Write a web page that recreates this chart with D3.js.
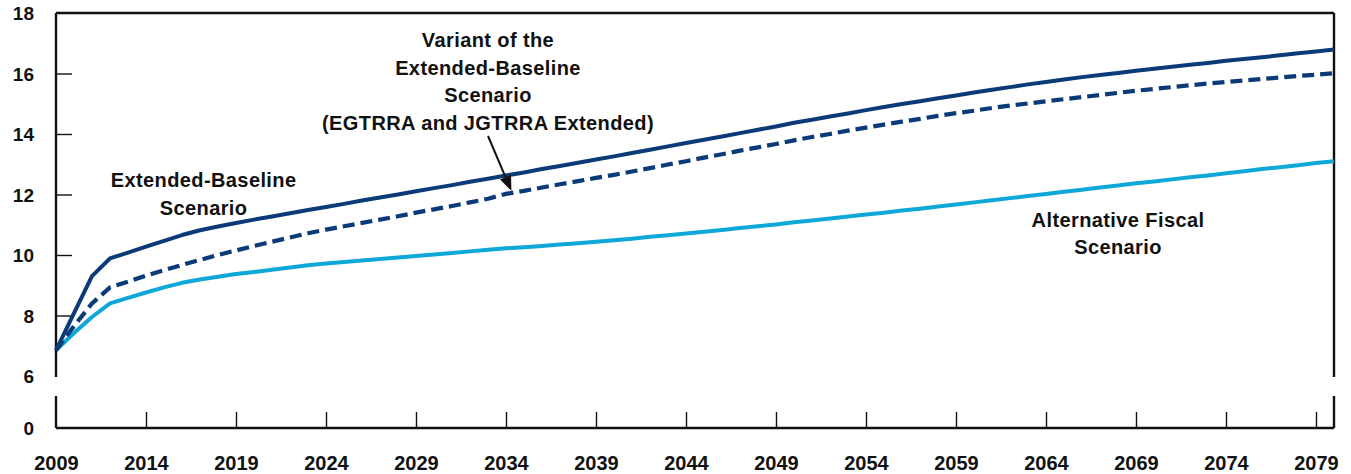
<!DOCTYPE html>
<html>
<head>
<meta charset="utf-8">
<script src="https://cdn.jsdelivr.net/npm/d3@7"></script>
<style>
  html, body { margin: 0; padding: 0; background: #fff; }
  svg { display: block; }
  text { font-family: "Liberation Sans", Arial, sans-serif; font-weight: bold; fill: #111; }
</style>
</head>
<body>
<svg id="chart" width="1351" height="474"></svg>
<script>
// ---- data ----
const years = d3.range(2009, 2081);
const extendedBaseline = [
  6.85, 8.08, 9.30, 9.89, 10.08, 10.28, 10.47, 10.66, 10.82, 10.94,
  11.06, 11.17, 11.27, 11.38, 11.49, 11.59, 11.69, 11.80, 11.90, 12.00,
  12.11, 12.21, 12.31, 12.42, 12.52, 12.63, 12.73, 12.84, 12.94, 13.05,
  13.16, 13.26, 13.37, 13.48, 13.59, 13.70, 13.81, 13.92, 14.03, 14.14,
  14.25, 14.37, 14.47, 14.58, 14.68, 14.79, 14.89, 14.99, 15.08, 15.18,
  15.27, 15.37, 15.46, 15.55, 15.64, 15.72, 15.80, 15.88, 15.95, 16.02,
  16.09, 16.16, 16.22, 16.29, 16.35, 16.42, 16.48, 16.54, 16.60, 16.67,
  16.73, 16.79
];
const variantExtended = [
  6.85, 7.65, 8.40, 8.93, 9.12, 9.32, 9.50, 9.67, 9.84, 10.00,
  10.15, 10.30, 10.44, 10.58, 10.72, 10.84, 10.95, 11.06, 11.17, 11.28,
  11.40, 11.51, 11.62, 11.74, 11.86, 12.02, 12.12, 12.23, 12.34, 12.44,
  12.55, 12.65, 12.76, 12.87, 12.99, 13.10, 13.22, 13.33, 13.45, 13.56,
  13.67, 13.79, 13.90, 14.00, 14.11, 14.21, 14.31, 14.41, 14.50, 14.60,
  14.69, 14.77, 14.86, 14.94, 15.01, 15.08, 15.15, 15.22, 15.29, 15.36,
  15.43, 15.49, 15.55, 15.61, 15.67, 15.72, 15.77, 15.82, 15.87, 15.92,
  15.96, 16.01
];
const alternativeFiscal = [
  6.85, 7.42, 7.95, 8.40, 8.58, 8.76, 8.93, 9.08, 9.19, 9.28,
  9.37, 9.44, 9.51, 9.59, 9.66, 9.72, 9.77, 9.82, 9.87, 9.92,
  9.97, 10.02, 10.07, 10.12, 10.17, 10.22, 10.26, 10.30, 10.35, 10.39,
  10.44, 10.49, 10.54, 10.60, 10.65, 10.71, 10.77, 10.83, 10.89, 10.95,
  11.01, 11.08, 11.14, 11.21, 11.27, 11.34, 11.40, 11.47, 11.53, 11.60,
  11.67, 11.74, 11.81, 11.88, 11.95, 12.02, 12.09, 12.16, 12.23, 12.30,
  12.37, 12.43, 12.50, 12.57, 12.63, 12.70, 12.77, 12.84, 12.90, 12.97,
  13.04, 13.10
];
const xTickYears = d3.range(2009, 2080, 5);
const yTickValues = [6, 8, 10, 12, 14, 16, 18];
const yBreakLabel = "0";

// ---- layout ----
const svg = d3.select("#chart");
const plotLeft = 56, plotRight = 1334, plotTop = 13, yBottomMain = 376, yZero = 428;
const breakTop = 377, breakBottom = 396;

const x = d3.scaleLinear().domain([2009, 2080]).range([plotLeft, plotRight]);
const y = d3.scaleLinear().domain([6, 18]).range([yBottomMain, plotTop]);
const yLow = d3.scaleLinear().domain([0, 1]).range([yZero, yZero - 30.25]);

const dark = "#0b3a78";
const light = "#0ea8d8";

// frame: top border, left/right with break, bottom axis
const frame = svg.append("g").attr("stroke", "#111").attr("stroke-width", 2.4).attr("fill", "none");
frame.append("line").attr("x1", plotLeft).attr("x2", plotRight).attr("y1", plotTop).attr("y2", plotTop);
frame.append("line").attr("x1", plotLeft).attr("x2", plotRight).attr("y1", yZero).attr("y2", yZero);
[plotLeft, plotRight].forEach(xx => {
  frame.append("line").attr("x1", xx).attr("x2", xx).attr("y1", plotTop).attr("y2", breakTop);
  frame.append("line").attr("x1", xx).attr("x2", xx).attr("y1", breakBottom).attr("y2", yZero);
});

// y axis ticks (inward) and labels
const yAxis = d3.axisLeft(y).tickValues(yTickValues).tickSize(-16).tickPadding(22).tickFormat(d3.format("d"));
const gy = svg.append("g").attr("transform", `translate(${plotLeft},0)`).call(yAxis);
gy.select(".domain").remove();
gy.selectAll(".tick line").attr("stroke", "#111").attr("stroke-width", 1.4)
  .filter(d => d === 6 || d === 18).remove();
gy.selectAll(".tick text").attr("font-size", 19).attr("fill", "#111")
  .attr("font-family", '"Liberation Sans", Arial, sans-serif').attr("font-weight", "bold")
  .attr("dy", "0.36em");
svg.append("text").attr("x", plotLeft - 22).attr("y", yLow(0)).attr("dy", "0.36em")
  .attr("text-anchor", "end").attr("font-size", 19).text(yBreakLabel);

// x axis ticks (inward) and labels
const xAxis = d3.axisBottom(x).tickValues(xTickYears).tickSize(-16).tickPadding(28).tickFormat(d3.format("d"));
const gx = svg.append("g").attr("transform", `translate(0,${yZero})`).call(xAxis);
gx.select(".domain").remove();
gx.selectAll(".tick line").attr("stroke", "#111").attr("stroke-width", 1.4)
  .filter(d => d === 2009).remove();
gx.selectAll(".tick text").attr("font-size", 20).attr("fill", "#111")
  .attr("font-family", '"Liberation Sans", Arial, sans-serif').attr("font-weight", "bold");

// lines
const line = d3.line().x((d, i) => x(years[i])).y(d => y(d));
svg.append("path").datum(alternativeFiscal).attr("d", line)
  .attr("fill", "none").attr("stroke", light).attr("stroke-width", 4).attr("stroke-linejoin", "round");
svg.append("path").datum(variantExtended).attr("d", line)
  .attr("fill", "none").attr("stroke", dark).attr("stroke-width", 4.2).attr("stroke-dasharray", "12,6");
svg.append("path").datum(extendedBaseline).attr("d", line)
  .attr("fill", "none").attr("stroke", dark).attr("stroke-width", 4).attr("stroke-linejoin", "round");

// annotations
function label(lines, cx, firstBaseline, lh) {
  const t = svg.append("text").attr("text-anchor", "middle").attr("font-size", 20).attr("letter-spacing", "0.4px");
  lines.forEach((s, i) => t.append("tspan").attr("x", cx).attr("y", firstBaseline + i * lh).text(s));
}
label(["Variant of the", "Extended-Baseline", "Scenario", "(EGTRRA and JGTRRA Extended)"], x(2033.0), 47, 27.7);
label(["Extended-Baseline", "Scenario"], x(2017.2), 187, 28);
label(["Alternative Fiscal", "Scenario"], x(2068.0), 227, 27);

// arrow to the variant line
const tipX = x(2034.3), tipY = y(12.12);
const startX = x(2033.0), startY = 136;
const ang = Math.atan2(tipY - startY, tipX - startX);
const headLen = 15, headW = 6;
const bx = tipX - headLen * Math.cos(ang), by = tipY - headLen * Math.sin(ang);
svg.append("line").attr("x1", startX).attr("y1", startY).attr("x2", bx).attr("y2", by)
  .attr("stroke", "#111").attr("stroke-width", 2);
svg.append("path")
  .attr("d", `M${tipX},${tipY} L${bx + headW * Math.sin(ang)},${by - headW * Math.cos(ang)} L${bx - headW * Math.sin(ang)},${by + headW * Math.cos(ang)} Z`)
  .attr("fill", "#111");
</script>
</body>
</html>
